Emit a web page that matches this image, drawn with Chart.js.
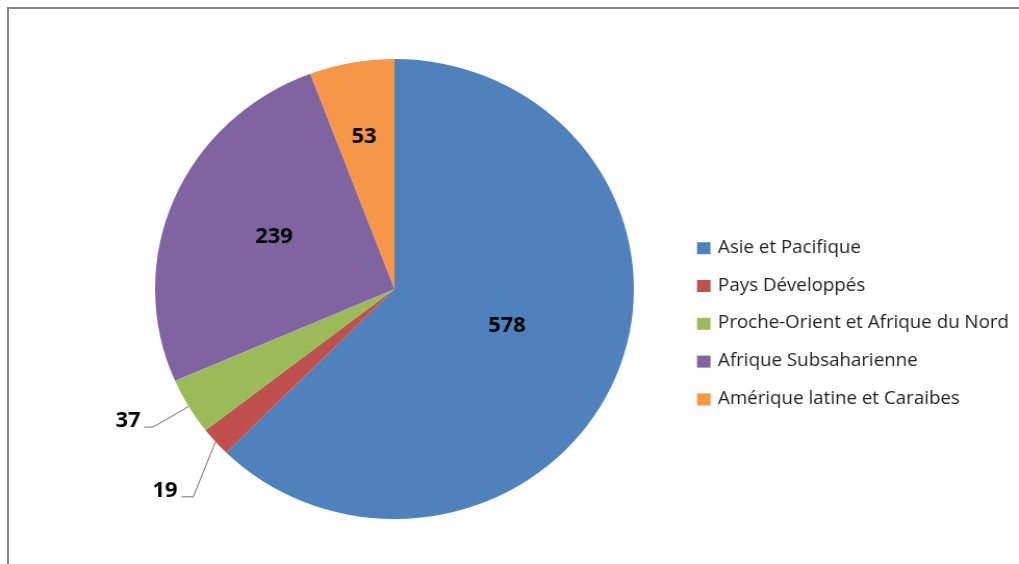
<!DOCTYPE html>
<html><head><meta charset="utf-8">
<script src="https://cdn.jsdelivr.net/npm/chart.js@4.4.0/dist/chart.umd.min.js"></script>
<style>
html,body{margin:0;padding:0;background:#fff;overflow:hidden;width:1019px;height:564px;}
#frame{position:absolute;left:7px;top:7px;width:1100px;height:700px;border-left:2px solid #868686;border-top:2px solid #868686;pointer-events:none;}
#c{position:absolute;left:0;top:0;}
</style></head><body>
<canvas id="c" width="979" height="564" style="width:1019px;height:564px;"></canvas>
<div id="frame"></div>
<script>
const categories = ['Asie et Pacifique', 'Pays Développés', 'Proche-Orient et Afrique du Nord', 'Afrique Subsaharienne', 'Amérique latine et Caraibes'];
const values = [578, 19, 37, 239, 53];
const colors = ['#4F81BD', '#C0504D', '#9BBB59', '#8064A2', '#F79646'];

const sliceLabels = {
  id: 'sliceLabels',
  afterDatasetsDraw(chart, args, opts) {
    const ctx = chart.ctx;
    const meta = chart.getDatasetMeta(0);
    const data = chart.data.datasets[0].data;
    meta.data.forEach((arc, i) => {
      const p = arc.getProps(['x', 'y', 'startAngle', 'endAngle', 'outerRadius'], true);
      const mid = (p.startAngle + p.endAngle) / 2;
      const pl = opts.placement[i];
      const text = String(data[i]);
      ctx.save();
      ctx.font = opts.font;
      ctx.fillStyle = '#000';
      ctx.textAlign = 'center';
      ctx.textBaseline = 'alphabetic';
      const half = opts.capHalf;
      if (pl.inside) {
        const a = mid + pl.da * Math.PI / 180;
        const rr = p.outerRadius * pl.f;
        ctx.fillText(text, p.x + rr * Math.cos(a), p.y + rr * Math.sin(a) + half);
      } else {
        const ex = p.x + p.outerRadius * Math.cos(mid);
        const ey = p.y + p.outerRadius * Math.sin(mid);
        const tx = ex + pl.dx, ty = ey + pl.dy;
        ctx.strokeStyle = '#6f6f6f';
        ctx.lineWidth = 1;
        ctx.beginPath();
        ctx.moveTo(ex, ey);
        ctx.lineTo(tx + pl.kx, ty + pl.ky);
        ctx.lineTo(tx + pl.hx, ty + pl.ky);
        ctx.stroke();
        ctx.fillText(text, tx, ty + half);
      }
      ctx.restore();
    });
  }
};

const sideLegend = {
  id: 'sideLegend',
  afterDraw(chart, args, opts) {
    const ctx = chart.ctx;
    const ds = chart.data.datasets[0];
    ctx.save();
    ctx.font = opts.font;
    ctx.textAlign = 'left';
    ctx.textBaseline = 'alphabetic';
    chart.data.labels.forEach((lab, i) => {
      const by = opts.top + i * opts.step;
      ctx.fillStyle = ds.backgroundColor[i];
      ctx.fillRect(opts.boxX, by - opts.boxUp, opts.boxW, opts.boxH);
      ctx.fillStyle = opts.color;
      ctx.fillText(lab, opts.textX, by);
    });
    ctx.restore();
  }
};

new Chart(document.getElementById('c'), {
  type: 'pie',
  data: {
    labels: categories,
    datasets: [{
      data: values,
      backgroundColor: colors,
      borderWidth: 0,
      hoverOffset: 0
    }]
  },
  options: {
    responsive: false,
    maintainAspectRatio: false,
    animation: false,
    events: [],
    layout: { padding: { left: 149, right: 370, top: 59, bottom: 45 } },
    plugins: {
      legend: { display: false },
      tooltip: { enabled: false },
      sliceLabels: {
        font: 'bold 21px "Open Sans"',
        capHalf: 7.5,
        placement: [
          { inside: true, f: 0.494, da: -4.15 },
          { inside: false, dx: -48.5, dy: 47.4, kx: 27.2, ky: 7.7, hx: 16 },
          { inside: false, dx: -58.2, dy: 12.6, kx: 24, ky: 8, hx: 15.3 },
          { inside: true, f: 0.554, da: 1.66 },
          { inside: true, f: 0.68, da: -0.5 }
        ]
      },
      sideLegend: {
        font: '18px "Open Sans"',
        color: '#1f1f1f',
        top: 252.7,
        step: 37.8,
        boxX: 669.6,
        boxW: 13,
        boxH: 12,
        boxUp: 10.5,
        textX: 689.8
      }
    }
  },
  plugins: [sliceLabels, sideLegend]
});
</script>
</body></html>
